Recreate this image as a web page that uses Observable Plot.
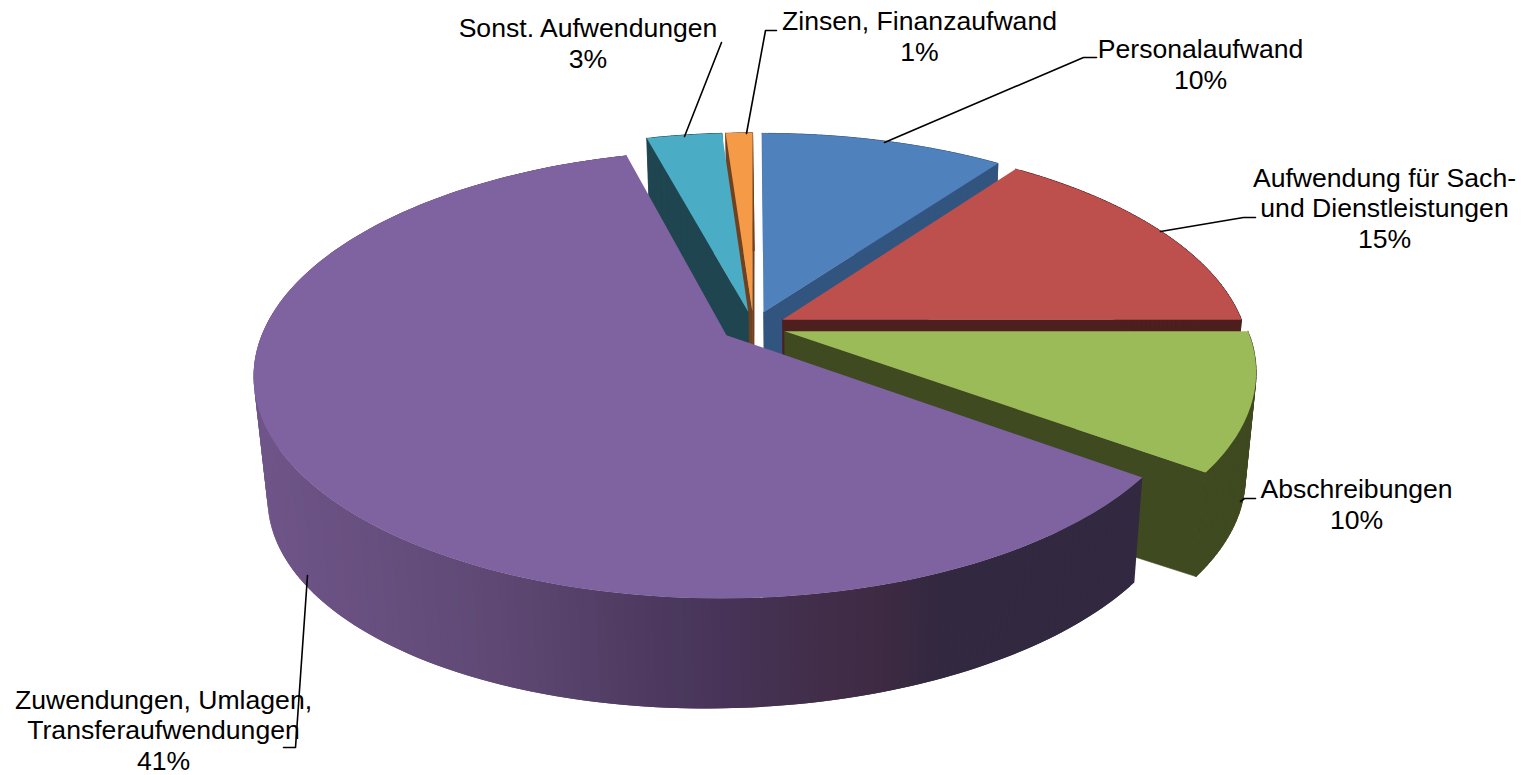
<!DOCTYPE html>
<html><head><meta charset="utf-8">
<style>html,body{margin:0;padding:0;background:#fff}svg{display:block}</style>
<script src="https://cdn.jsdelivr.net/npm/d3@7"></script>
<script src="https://cdn.jsdelivr.net/npm/@observablehq/plot@0.6"></script>
</head><body><div id="chart"></div>
<script>
// --- data ---
const categories = ["Personalaufwand","Aufwendung für Sach-\nund Dienstleistungen","Abschreibungen","Zuwendungen, Umlagen,\nTransferaufwendungen","Sonst. Aufwendungen","Zinsen, Finanzaufwand"];
const printedPercent = [10,15,10,41,3,1];   // as printed on the labels
const drawnShare = [10,15,10,60.8,3.1,1.1]; // share of the circle each slice really sweeps
const topColors = ["#4f81bd","#bd4f4c","#9bbb59","#7f62a0","#4bacc6","#f59a47"];
const wallColors = ["#32557f","#4e1f1f","#3f4a20","#322840","#1e4550","#6e4220"];
const paintOrder = [5,4,0,1,2,3];
// --- label layout ---
const labelX = [1200,1384,1356,163,587.5,919];
const labelY = [63,207,503,729,42,35];
const leaders = [
  [[884,142],[1083,57],[1096,57]],
  [[1160,231],[1243,217],[1255,217]],
  [[1240,501],[1244,498],[1255,498]],
  [[307,575],[295,747],[283,747]],
  [[684,136],[721,42]],
  [[746,133],[765,30],[776,30]]
];
// --- 3D view of the pie ---
const view = {cx:753, cy:326, a:461.6, b:214.4, k:0.173, explode:0.0706};
const frontShadeX = [251,500,715,880,940,1143];
const frontShadeC = ["#6f5589","#5e4873","#473458","#3e2a42","#322840","#322840"];
const frontShade = d3.scaleLinear().domain(frontShadeX).range(frontShadeC);

const rad = d => d * Math.PI / 180;
function project(X, Y) { const w = 1 + view.k * Y; return [view.cx + view.a * X / w, view.cy - view.b * Y / w]; }
function lower([x, y]) { return [x + 14 - 0.0247 * (x - 251), y + 133.2 - 0.017 * x - 0.01846 * y]; }
const cross = (u, v) => u[0] * v[1] - u[1] * v[0];
const sub = (p, q) => [p[0] - q[0], p[1] - q[1]];

const total = d3.sum(drawnShare);
let acc = 0;
const slices = drawnShare.map((s, i) => {
  const start = acc / total * 360; acc += s; const end = acc / total * 360;
  return {i, start, end, mid: (start + end) / 2};
});
const faces = [];
let id = 0;
function face(points, color, edge) { const n = id++; [...points, points[0]].forEach(p => faces.push({id: n, x: p[0], y: p[1], color, edge})); }
for (const i of paintOrder) {
  const s = slices[i];
  const ox = view.explode * Math.sin(rad(s.mid)), oy = view.explode * Math.cos(rad(s.mid));
  const apex = project(ox, oy);
  const n = Math.max(2, Math.ceil(s.end - s.start));
  const arc = d3.range(n + 1).map(j => {
    const t = rad(s.start + (s.end - s.start) * j / n);
    return project(ox + Math.sin(t), oy + Math.cos(t));
  });
  const inner = arc[Math.floor(n / 2)];
  // radial faces, only when they look toward the viewer
  for (const rim of [arc[0], arc[n]]) {
    const e = sub(rim, apex), drop = sub(lower(apex), apex), toInner = sub(inner, apex);
    if (Math.sign(cross(e, drop)) !== Math.sign(cross(e, toInner)))
      face([apex, rim, lower(rim), lower(apex)], wallColors[i], wallColors[i]);
  }
  // outer wall, as overlapping strips
  for (let j = 0; j < n; j++) {
    const p = arc[j], q = arc[Math.min(n, j + 2)];
    if (i === 3) face([p, q, lower(q), lower(p)], frontShade((arc[j][0] + arc[j + 1][0]) / 2), "none");
    else face([p, q, lower(q), lower(p)], wallColors[i], wallColors[i]);
  }
  face([apex, ...arc], topColors[i], "none");
}
const labels = categories.map((c, i) => ({text: `${c}\n${printedPercent[i]}%`, x: labelX[i], y: labelY[i]}));
const leaderRows = leaders.flatMap((l, i) => l.map(p => ({i, x: p[0], y: p[1]})));

const chart = Plot.plot({
  width: 1523, height: 775, margin: 0,
  x: {type: "linear", domain: [0, 1523], range: [0, 1523], axis: null},
  y: {type: "linear", domain: [0, 775], range: [0, 775], axis: null},
  color: {type: "identity"},
  style: {background: "#fff"},
  marks: [
    Plot.line(faces, {x: "x", y: "y", z: "id", fill: "color", stroke: "edge", strokeWidth: 0.6, curve: "linear"}),
    Plot.line(leaderRows, {x: "x", y: "y", z: "i", stroke: "#000", strokeWidth: 1.6, curve: "linear"}),
    Plot.text(labels, {x: "x", y: "y", text: "text", fill: "#000", fontSize: 26.6, lineHeight: 1.15, lineAnchor: "middle", textAnchor: "middle", fontFamily: "'Liberation Sans', Arial, sans-serif"})
  ]
});
document.getElementById("chart").append(chart);
</script></body></html>
